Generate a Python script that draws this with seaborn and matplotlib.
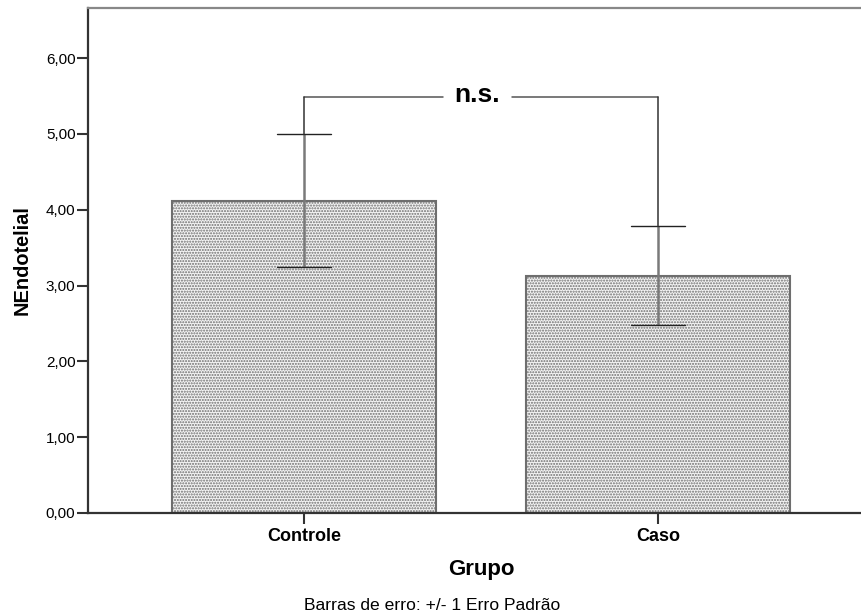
import numpy as np
import pandas as pd
import matplotlib as mpl
mpl.use("Agg")
import matplotlib.pyplot as plt
import seaborn as sns

# valores
grupos = ["Controle", "Caso"]
medias = [4.12, 3.13]
erro_padrao = [0.88, 0.65]
y_ticks = [0, 1, 2, 3, 4, 5, 6]
bracket_y = 5.49

sns.set_style("white")
plt.rcParams['font.family'] = ['Liberation Sans', 'DejaVu Sans']
plt.rcParams['text.color'] = 'black'
plt.rcParams['axes.labelcolor'] = 'black'
plt.rcParams['xtick.color'] = 'black'
plt.rcParams['ytick.color'] = 'black'
mpl.rcParams['hatch.color'] = '#8c8c8c'
mpl.rcParams['hatch.linewidth'] = 1.0

df = pd.DataFrame({"Grupo": grupos, "NEndotelial": medias})

fig = plt.figure(figsize=(8.61, 6.15), dpi=100)
ax = fig.add_axes([88/861, 1-513/615, 787/861, 505/615])

sns.barplot(data=df, x="Grupo", y="NEndotelial", errorbar=None, width=0.746,
            color="#f4f4f4", edgecolor="#6e6e6e", linewidth=1.5, ax=ax)
for p in ax.patches:
    p.set_hatch("......")

# barras de erro
xs = np.arange(len(grupos))
ax.errorbar(xs, medias, yerr=erro_padrao, fmt="none", ecolor="#7a7a7a",
            elinewidth=1.8, capsize=0, zorder=3)
for x, m, e in zip(xs, medias, erro_padrao):
    for yy in (m - e, m + e):
        ax.plot([x - 0.076, x + 0.076], [yy, yy], color="#222222", lw=1.0, zorder=4)

# colchete n.s.
tops = [m + e for m, e in zip(medias, erro_padrao)]
ax.plot([xs[0], xs[0]], [tops[0], bracket_y], color="#333333", lw=1.1, zorder=4)
ax.plot([xs[1], xs[1]], [tops[1], bracket_y], color="#333333", lw=1.1, zorder=4)
ax.plot([xs[0], 0.393], [bracket_y, bracket_y], color="#555555", lw=1.1)
ax.plot([0.588, xs[1]], [bracket_y, bracket_y], color="#555555", lw=1.1)
ax.text(0.49, bracket_y + 0.02, "n.s.", ha="center", va="center", fontsize=19,
        fontweight="bold")

ax.set_xlim(-0.61, 1.613)
ax.set_ylim(0, 6.66)
ax.set_yticks(y_ticks)
ax.set_yticklabels([f"{v:.2f}".replace(".", ",") for v in y_ticks], fontsize=11)
ax.set_xticks(xs)
ax.set_xticklabels(grupos, fontsize=13, fontweight="bold")
ax.tick_params(axis="both", direction="out", length=8, width=1.5, color="#333333",
               left=True, bottom=True, pad=1)
ax.tick_params(axis="x", pad=3)

for side in ["left", "bottom"]:
    ax.spines[side].set_color("#333333")
    ax.spines[side].set_linewidth(1.6)
ax.spines["top"].set_color("#888888")
ax.spines["top"].set_linewidth(1.6)
ax.spines["right"].set_visible(False)

ax.set_xlabel("Grupo", fontsize=16, fontweight="bold", labelpad=10)
ax.set_ylabel("NEndotelial", fontsize=14.4, fontweight="bold", labelpad=10)

fig.text(432/861, 1-605/615, "Barras de erro: +/- 1 Erro Padrão", ha="center",
         va="center", fontsize=12.6)

fig.savefig("out.png", dpi=100)
